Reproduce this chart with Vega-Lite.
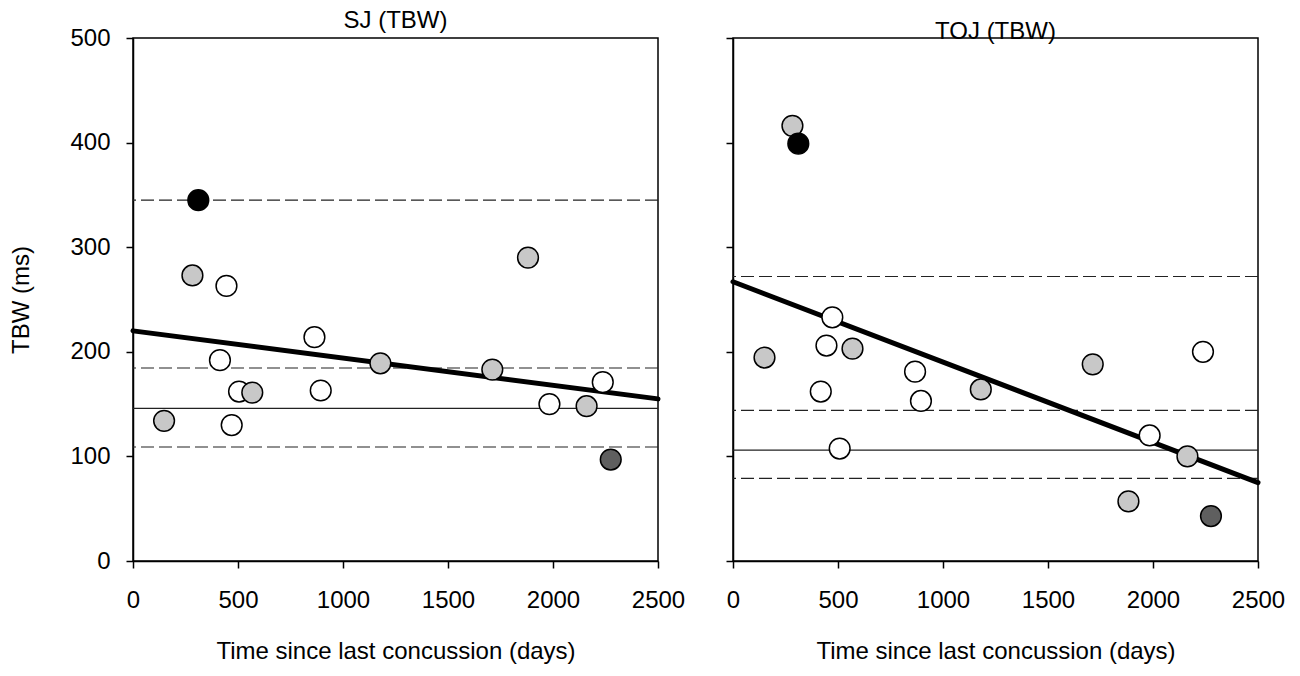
{
  "$schema": "https://vega.github.io/schema/vega-lite/v6.json",
  "padding": {"left": 9, "top": 8, "right": 5, "bottom": 5},
  "background": "white",
  "spacing": 36,
  "datasets": {
    "sj_points": [
      {"days": 148, "tbw": 134, "group": "gray"},
      {"days": 470, "tbw": 130, "group": "white"},
      {"days": 505, "tbw": 162, "group": "white"},
      {"days": 568, "tbw": 161, "group": "gray"},
      {"days": 414, "tbw": 192, "group": "white"},
      {"days": 445, "tbw": 263, "group": "white"},
      {"days": 283, "tbw": 273, "group": "gray"},
      {"days": 311, "tbw": 345, "group": "black"},
      {"days": 864, "tbw": 214, "group": "white"},
      {"days": 894, "tbw": 163, "group": "white"},
      {"days": 1178, "tbw": 189, "group": "gray"},
      {"days": 1711, "tbw": 183, "group": "gray"},
      {"days": 1881, "tbw": 290, "group": "gray"},
      {"days": 1983, "tbw": 150, "group": "white"},
      {"days": 2160, "tbw": 148, "group": "gray"},
      {"days": 2237, "tbw": 171, "group": "white"},
      {"days": 2275, "tbw": 97, "group": "darkgray"}
    ],
    "sj_refs": [
      {"tbw": 345, "kind": "limit"},
      {"tbw": 184.5, "kind": "limit"},
      {"tbw": 146, "kind": "mean"},
      {"tbw": 109, "kind": "limit"}
    ],
    "sj_fit": [
      {"days": 0, "tbw": 220},
      {"days": 2500, "tbw": 155}
    ],
    "toj_points": [
      {"days": 150, "tbw": 194.5, "group": "gray"},
      {"days": 418, "tbw": 162, "group": "white"},
      {"days": 508, "tbw": 107.5, "group": "white"},
      {"days": 445, "tbw": 206, "group": "white"},
      {"days": 569, "tbw": 203, "group": "gray"},
      {"days": 473, "tbw": 233, "group": "white"},
      {"days": 283, "tbw": 416, "group": "gray"},
      {"days": 311, "tbw": 399, "group": "black"},
      {"days": 867, "tbw": 181, "group": "white"},
      {"days": 895, "tbw": 153, "group": "white"},
      {"days": 1180, "tbw": 164, "group": "gray"},
      {"days": 1713, "tbw": 188, "group": "gray"},
      {"days": 1883, "tbw": 57, "group": "gray"},
      {"days": 1984, "tbw": 120, "group": "white"},
      {"days": 2164, "tbw": 100, "group": "gray"},
      {"days": 2238, "tbw": 200, "group": "white"},
      {"days": 2276, "tbw": 43, "group": "darkgray"}
    ],
    "toj_refs": [
      {"tbw": 272, "kind": "limit"},
      {"tbw": 144, "kind": "limit"},
      {"tbw": 106, "kind": "mean"},
      {"tbw": 79, "kind": "limit"}
    ],
    "toj_fit": [
      {"days": 0, "tbw": 267},
      {"days": 2500, "tbw": 75}
    ]
  },
  "config": {
    "view": {"stroke": "black", "strokeWidth": 1.5},
    "font": "Liberation Sans",
    "axis": {
      "grid": false,
      "domainColor": "black",
      "domainWidth": 1.5,
      "tickColor": "black",
      "tickSize": 7,
      "tickWidth": 1.5,
      "labelFont": "Liberation Sans",
      "labelFontSize": 24,
      "labelColor": "black",
      "labelFlush": false,
      "labelOverlap": false,
      "titleFont": "Liberation Sans",
      "titleFontSize": 24,
      "titleFontWeight": "normal",
      "titleColor": "black",
      "format": "d"
    },
    "axisX": {"labelPadding": 20, "titlePadding": 27},
    "axisY": {"labelPadding": 16, "titlePadding": 36},
    "title": {
      "font": "Liberation Sans",
      "fontSize": 24,
      "fontWeight": "normal",
      "color": "black",
      "baseline": "alphabetic",
      "frame": "group",
      "offset": -7
    }
  },
  "hconcat": [
    {
      "width": 525,
      "height": 523,
      "title": {"text": "SJ (TBW)"},
      "layer": [
        {
          "data": {"name": "sj_refs"},
          "mark": {"type": "rule", "color": "#222222", "strokeWidth": 1.2},
          "encoding": {
            "y": {"field": "tbw", "type": "quantitative", "scale": {"domain": [0, 500], "nice": false}},
            "strokeDash": {
              "field": "kind",
              "type": "nominal",
              "scale": {"domain": ["mean", "limit"], "range": [[1, 0], [13, 5]]},
              "legend": null
            }
          }
        },
        {
          "data": {"name": "sj_fit"},
          "mark": {"type": "line", "color": "black", "strokeWidth": 5, "strokeCap": "round"},
          "encoding": {
            "x": {"field": "days", "type": "quantitative"},
            "y": {"field": "tbw", "type": "quantitative"}
          }
        },
        {
          "data": {"name": "sj_points"},
          "mark": {"type": "point", "shape": "circle", "filled": true, "opacity": 1, "stroke": "black", "strokeWidth": 1.5, "size": 430},
          "encoding": {
            "x": {
              "field": "days",
              "type": "quantitative",
              "scale": {"domain": [0, 2500], "nice": false},
              "axis": {"values": [0, 500, 1000, 1500, 2000, 2500], "title": "Time since last concussion (days)"}
            },
            "y": {
              "field": "tbw",
              "type": "quantitative",
              "axis": {"values": [0, 100, 200, 300, 400, 500], "title": "TBW (ms)"}
            },
            "fill": {
              "field": "group",
              "type": "nominal",
              "scale": {"domain": ["white", "gray", "black", "darkgray"], "range": ["#ffffff", "#c8c8c8", "#000000", "#5f5f5f"]},
              "legend": null
            }
          }
        }
      ]
    },
    {
      "width": 525,
      "height": 523,
      "title": {"text": "TOJ (TBW)"},
      "layer": [
        {
          "data": {"name": "toj_refs"},
          "mark": {"type": "rule", "color": "#222222", "strokeWidth": 1.2},
          "encoding": {
            "y": {"field": "tbw", "type": "quantitative", "scale": {"domain": [0, 500], "nice": false}},
            "strokeDash": {
              "field": "kind",
              "type": "nominal",
              "scale": {"domain": ["mean", "limit"], "range": [[1, 0], [13, 5]]},
              "legend": null
            }
          }
        },
        {
          "data": {"name": "toj_fit"},
          "mark": {"type": "line", "color": "black", "strokeWidth": 5, "strokeCap": "round"},
          "encoding": {
            "x": {"field": "days", "type": "quantitative"},
            "y": {"field": "tbw", "type": "quantitative"}
          }
        },
        {
          "data": {"name": "toj_points"},
          "mark": {"type": "point", "shape": "circle", "filled": true, "opacity": 1, "stroke": "black", "strokeWidth": 1.5, "size": 430},
          "encoding": {
            "x": {
              "field": "days",
              "type": "quantitative",
              "scale": {"domain": [0, 2500], "nice": false},
              "axis": {"values": [0, 500, 1000, 1500, 2000, 2500], "title": "Time since last concussion (days)"}
            },
            "y": {
              "field": "tbw",
              "type": "quantitative",
              "axis": {"values": [0, 100, 200, 300, 400, 500], "labels": false, "title": null}
            },
            "fill": {
              "field": "group",
              "type": "nominal",
              "scale": {"domain": ["white", "gray", "black", "darkgray"], "range": ["#ffffff", "#c8c8c8", "#000000", "#5f5f5f"]},
              "legend": null
            }
          }
        }
      ]
    }
  ]
}
